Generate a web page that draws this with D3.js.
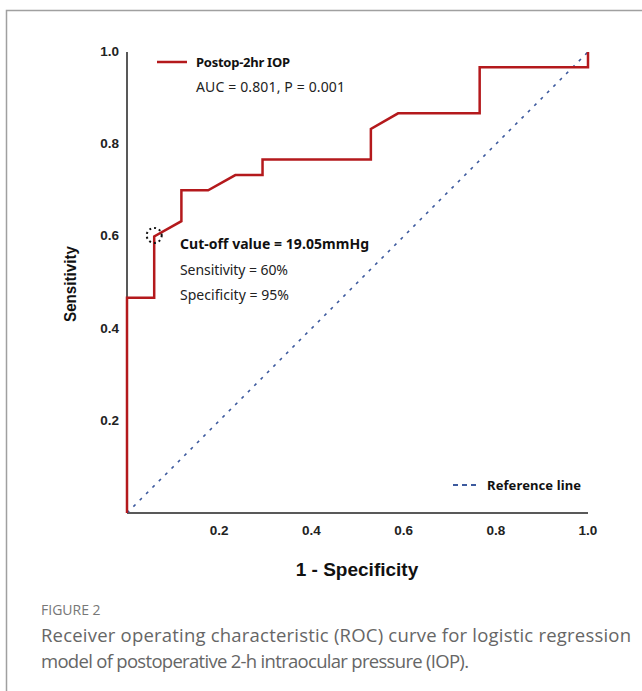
<!DOCTYPE html>
<html>
<head>
<meta charset="utf-8">
<script src="https://cdn.jsdelivr.net/npm/d3@7"></script>
<style>
  body { margin: 0; background: #fff; }
  svg { display: block; }
</style>
</head>
<body>
<div id="chart"></div>
<script>
// ROC curve points (1 - specificity, sensitivity)
const fpr = [0, 0, 0.059, 0.059, 0.118, 0.118, 0.176, 0.235, 0.294, 0.294, 0.529, 0.529, 0.588, 0.765, 0.765, 1, 1];
const tpr = [0, 0.467, 0.467, 0.6, 0.633, 0.7, 0.7, 0.733, 0.733, 0.767, 0.767, 0.833, 0.867, 0.867, 0.967, 0.967, 1];
const refLine = [0, 1];
const tickValues = [0.2, 0.4, 0.6, 0.8, 1.0];
const cutoff = { fpr: 0.059, tpr: 0.6 };

const width = 642, height = 691;
const svg = d3.select("#chart").append("svg")
  .attr("width", width)
  .attr("height", height);

// page frame (top and left edges only visible)
svg.append("path")
  .attr("d", `M 6.5 ${height} V 10.5 H ${width}`)
  .attr("fill", "none")
  .attr("stroke", "#a0a0a0")
  .attr("stroke-width", 1.5);

const x = d3.scaleLinear().domain([0, 1]).range([127, 588]);
const y = d3.scaleLinear().domain([0, 1]).range([513, 52]);

const tickFont = "'Liberation Sans', Arial, sans-serif";
const textFont = "'Noto Sans', 'Open Sans', sans-serif";

// axes lines
svg.append("line")
  .attr("x1", x(0)).attr("x2", x(1))
  .attr("y1", y(0)).attr("y2", y(0))
  .attr("stroke", "#222").attr("stroke-width", 1.5);
svg.append("line")
  .attr("x1", x(0)).attr("x2", x(0))
  .attr("y1", y(0)).attr("y2", y(1))
  .attr("stroke", "#222").attr("stroke-width", 1.5);

// tick labels
svg.selectAll(".xtick")
  .data(tickValues)
  .enter()
  .append("text")
  .attr("class", "xtick")
  .attr("x", d => x(d))
  .attr("y", 535)
  .attr("text-anchor", "middle")
  .attr("font-family", tickFont)
  .attr("font-weight", "bold")
  .attr("font-size", 13.5)
  .attr("fill", "#222")
  .text(d => d3.format(".1f")(d));

svg.selectAll(".ytick")
  .data(tickValues)
  .enter()
  .append("text")
  .attr("class", "ytick")
  .attr("x", 119)
  .attr("y", d => y(d))
  .attr("dy", "0.3em")
  .attr("text-anchor", "end")
  .attr("font-family", tickFont)
  .attr("font-weight", "bold")
  .attr("font-size", 13.5)
  .attr("fill", "#222")
  .text(d => d3.format(".1f")(d));

// axis titles
svg.append("text")
  .attr("x", 357)
  .attr("y", 576)
  .attr("text-anchor", "middle")
  .attr("font-family", tickFont)
  .attr("font-weight", "bold")
  .attr("font-size", 19)
  .attr("fill", "#111")
  .text("1 - Specificity");

svg.append("text")
  .attr("transform", "translate(76, 284) rotate(-90)")
  .attr("text-anchor", "middle")
  .attr("font-family", tickFont)
  .attr("font-weight", "bold")
  .attr("font-size", 17)
  .attr("fill", "#111")
  .attr("textLength", 76)
  .attr("lengthAdjust", "spacingAndGlyphs")
  .text("Sensitivity");

// reference diagonal
svg.append("line")
  .attr("x1", x(refLine[0])).attr("y1", y(refLine[0]))
  .attr("x2", x(refLine[1])).attr("y2", y(refLine[1]))
  .attr("stroke", "#3d5a9e")
  .attr("stroke-width", 1.6)
  .attr("stroke-dasharray", "3,6");

// ROC curve
const rocLine = d3.line()
  .x((d, i) => x(fpr[i]))
  .y((d, i) => y(tpr[i]));

svg.append("path")
  .datum(fpr)
  .attr("d", rocLine)
  .attr("fill", "none")
  .attr("stroke", "#b4191c")
  .attr("stroke-width", 2.5);

// dotted circle at cut-off
svg.append("circle")
  .attr("cx", x(cutoff.fpr))
  .attr("cy", y(cutoff.tpr) - 1)
  .attr("r", 7.5)
  .attr("fill", "none")
  .attr("stroke", "#111")
  .attr("stroke-width", 2)
  .attr("stroke-dasharray", "2,3");

// annotation texts
function note(tx, ty, str, bold, size, len) {
  svg.append("text")
    .attr("x", tx).attr("y", ty)
    .attr("font-family", textFont)
    .attr("font-weight", bold ? "bold" : "normal")
    .attr("font-size", size)
    .attr("fill", bold ? "#111" : "#222")
    .attr("textLength", len)
    .attr("lengthAdjust", "spacing")
    .text(str);
}

// legend: curve
svg.append("line")
  .attr("x1", 157).attr("x2", 187)
  .attr("y1", 62).attr("y2", 62)
  .attr("stroke", "#b4191c")
  .attr("stroke-width", 2.5);

note(196, 67, "Postop-2hr IOP", true, 13, 94);
note(196, 92, "AUC = 0.801, P = 0.001", false, 14, 149);

// cut-off annotation
note(180, 249, "Cut-off value = 19.05mmHg", true, 14, 189);
note(180, 275, "Sensitivity = 60%", false, 14, 108);
note(180, 300, "Specificity = 95%", false, 14, 109);

// legend: reference line
svg.append("line")
  .attr("x1", 453).attr("x2", 477)
  .attr("y1", 485).attr("y2", 485)
  .attr("stroke", "#3d5a9e")
  .attr("stroke-width", 2)
  .attr("stroke-dasharray", "5,4");

note(487, 490, "Reference line", true, 13, 94);

// caption
svg.append("text")
  .attr("x", 41).attr("y", 615)
  .attr("font-family", "'Open Sans', sans-serif")
  .attr("font-size", 14)
  .attr("fill", "#777")
  .text("FIGURE 2");

const caption = [
  "Receiver operating characteristic (ROC) curve for logistic regression",
  "model of postoperative 2-h intraocular pressure (IOP)."
];
const captionLen = [590, 428];
svg.selectAll(".caption")
  .data(caption)
  .enter()
  .append("text")
  .attr("class", "caption")
  .attr("x", 41)
  .attr("y", (d, i) => 642 + i * 26)
  .attr("font-family", "'Open Sans', sans-serif")
  .attr("font-size", 18.5)
  .attr("fill", "#666")
  .attr("textLength", (d, i) => captionLen[i])
  .attr("lengthAdjust", "spacing")
  .text(d => d);
</script>
</body>
</html>
